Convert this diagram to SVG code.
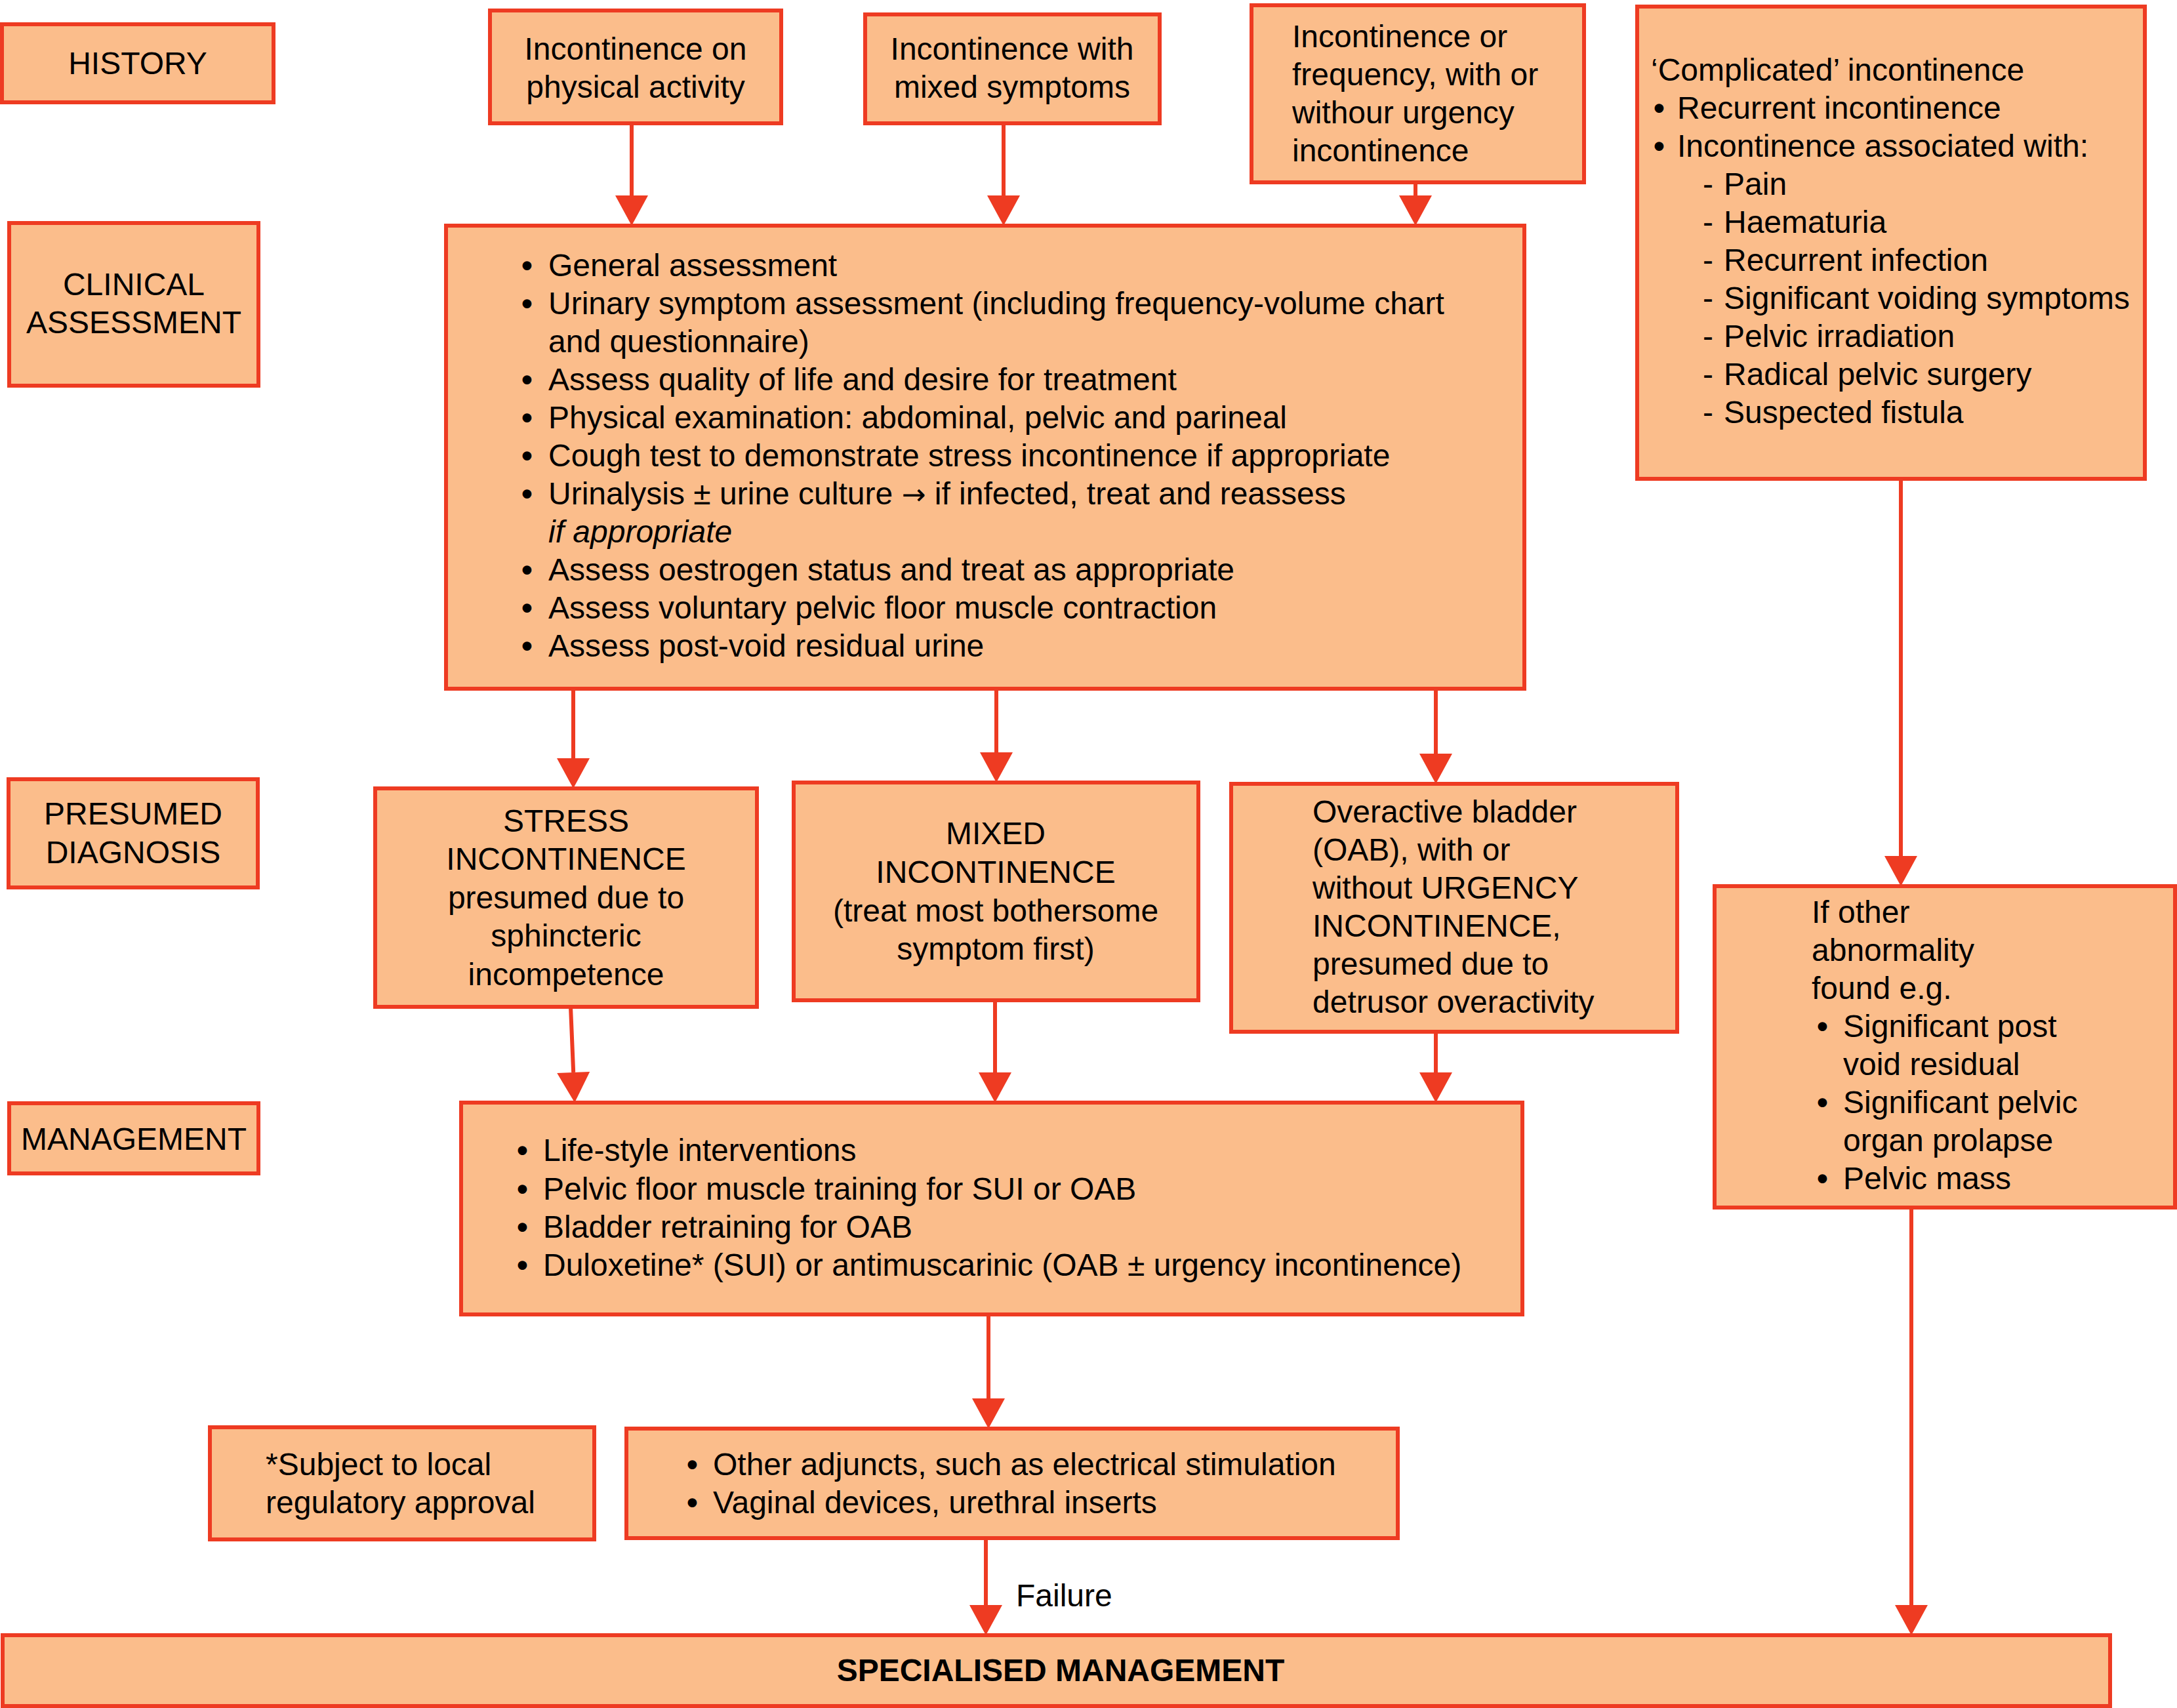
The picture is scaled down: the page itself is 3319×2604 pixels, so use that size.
<svg xmlns="http://www.w3.org/2000/svg" width="3319" height="2604" viewBox="0 0 3319 2604">
<style>
  .box { fill: #FBBD8B; stroke: #EE3B22; stroke-width: 6; }
  text { font-family: "Liberation Sans", Arial, Helvetica, sans-serif; font-size: 48px; fill: #000; }
  .c { text-anchor: middle; }
  .b { font-weight: bold; }
  .i { font-style: italic; }
  .bul { font-weight: bold; }
  .sym { font-family: "DejaVu Sans", sans-serif; font-size: 44px; }
  .conn { fill: none; stroke: #EE3B22; stroke-width: 6; marker-end: url(#arrow); }
</style>
<defs>
  <marker id="arrow" markerUnits="userSpaceOnUse" markerWidth="50" markerHeight="56" refX="0" refY="25" orient="auto" overflow="visible">
    <path d="M0,0 L46,25 L0,50 Z" fill="#EE3B22"/>
  </marker>
</defs>
<rect width="3319" height="2604" fill="#FFFFFF"/>

<g id="connectors">
  <path class="conn" d="M963,188 L963,298"/>
  <path class="conn" d="M1530,188 L1530,298"/>
  <path class="conn" d="M2158,278 L2158,298"/>
  <path class="conn" d="M874,1050 L874,1156"/>
  <path class="conn" d="M1519,1050 L1519,1147"/>
  <path class="conn" d="M2189,1050 L2189,1149"/>
  <path class="conn" d="M2898,730 L2898,1305"/>
  <path class="conn" d="M870,1535 L874.2,1635"/>
  <path class="conn" d="M1517,1525 L1517,1635"/>
  <path class="conn" d="M2189,1573 L2189,1635"/>
  <path class="conn" d="M1507,2004 L1507,2132"/>
  <path class="conn" d="M1503,2345 L1503,2447"/>
  <path class="conn" d="M2914,1841 L2914,2447"/>
  <text x="1549" y="2449">Failure</text>
</g>

<g id="history">
  <rect class="box" x="3" y="37" width="414" height="119"/>
  <text class="c" x="210" y="113">HISTORY</text>
</g>

<g id="clinical-label">
  <rect class="box" x="14" y="340" width="380" height="248"/>
  <text class="c" x="204" y="450">CLINICAL</text>
  <text class="c" x="204" y="508">ASSESSMENT</text>
</g>

<g id="presumed-label">
  <rect class="box" x="13" y="1188" width="380" height="165"/>
  <text class="c" x="203" y="1257">PRESUMED</text>
  <text class="c" x="203" y="1316">DIAGNOSIS</text>
</g>

<g id="management-label">
  <rect class="box" x="14" y="1682" width="380" height="107"/>
  <text class="c" x="204" y="1753">MANAGEMENT</text>
</g>

<g id="hist-physical">
  <rect class="box" x="747" y="16" width="444" height="172"/>
  <text class="c" x="969" y="91">Incontinence on</text>
  <text class="c" x="969" y="149">physical activity</text>
</g>

<g id="hist-mixed">
  <rect class="box" x="1319" y="22" width="449" height="166"/>
  <text class="c" x="1543" y="91">Incontinence with</text>
  <text class="c" x="1543" y="149">mixed symptoms</text>
</g>

<g id="hist-frequency">
  <rect class="box" x="1908" y="8" width="507" height="270"/>
  <text x="1970" y="72">Incontinence or</text>
  <text x="1970" y="130">frequency, with or</text>
  <text x="1970" y="188">withour urgency</text>
  <text x="1970" y="246">incontinence</text>
</g>

<g id="complicated">
  <rect class="box" x="2496" y="10" width="774" height="720"/>
  <text x="2517" y="123">‘Complicated’ incontinence</text>
  <text class="bul" x="2521" y="181">•</text><text x="2557" y="181">Recurrent incontinence</text>
  <text class="bul" x="2521" y="239">•</text><text x="2557" y="239">Incontinence associated with:</text>
  <text x="2596" y="297">-</text><text x="2628" y="297">Pain</text>
  <text x="2596" y="355">-</text><text x="2628" y="355">Haematuria</text>
  <text x="2596" y="413">-</text><text x="2628" y="413">Recurrent infection</text>
  <text x="2596" y="471">-</text><text x="2628" y="471">Significant voiding symptoms</text>
  <text x="2596" y="529">-</text><text x="2628" y="529">Pelvic irradiation</text>
  <text x="2596" y="587">-</text><text x="2628" y="587">Radical pelvic surgery</text>
  <text x="2596" y="645">-</text><text x="2628" y="645">Suspected fistula</text>
</g>

<g id="clinical-assessment">
  <rect class="box" x="680" y="344" width="1644" height="706"/>
  <text class="bul" x="795" y="421">•</text><text x="836" y="421">General assessment</text>
  <text class="bul" x="795" y="479">•</text><text x="836" y="479">Urinary symptom assessment (including frequency-volume chart</text>
  <text x="836" y="537">and questionnaire)</text>
  <text class="bul" x="795" y="595">•</text><text x="836" y="595">Assess quality of life and desire for treatment</text>
  <text class="bul" x="795" y="653">•</text><text x="836" y="653">Physical examination: abdominal, pelvic and parineal</text>
  <text class="bul" x="795" y="711">•</text><text x="836" y="711">Cough test to demonstrate stress incontinence if appropriate</text>
  <text class="bul" x="795" y="769">•</text><text x="836" y="769">Urinalysis ± urine culture <tspan class="sym">→</tspan> if infected, treat and reassess</text>
  <text class="i" x="836" y="827">if appropriate</text>
  <text class="bul" x="795" y="885">•</text><text x="836" y="885">Assess oestrogen status and treat as appropriate</text>
  <text class="bul" x="795" y="943">•</text><text x="836" y="943">Assess voluntary pelvic floor muscle contraction</text>
  <text class="bul" x="795" y="1001">•</text><text x="836" y="1001">Assess post-void residual urine</text>
</g>

<g id="stress">
  <rect class="box" x="572" y="1202" width="582" height="333"/>
  <text class="c" x="863" y="1268">STRESS</text>
  <text class="c" x="863" y="1326">INCONTINENCE</text>
  <text class="c" x="863" y="1385">presumed due to</text>
  <text class="c" x="863" y="1443">sphincteric</text>
  <text class="c" x="863" y="1502">incompetence</text>
</g>

<g id="mixed">
  <rect class="box" x="1210" y="1193" width="617" height="332"/>
  <text class="c" x="1518" y="1287">MIXED</text>
  <text class="c" x="1518" y="1346">INCONTINENCE</text>
  <text class="c" x="1518" y="1405">(treat most bothersome</text>
  <text class="c" x="1518" y="1463">symptom first)</text>
</g>

<g id="oab">
  <rect class="box" x="1877" y="1195" width="680" height="378"/>
  <text x="2001" y="1254">Overactive bladder</text>
  <text x="2001" y="1312">(OAB), with or</text>
  <text x="2001" y="1370">without URGENCY</text>
  <text x="2001" y="1428">INCONTINENCE,</text>
  <text x="2001" y="1486">presumed due to</text>
  <text x="2001" y="1544">detrusor overactivity</text>
</g>

<g id="if-other">
  <rect class="box" x="2614" y="1351" width="702" height="490"/>
  <text x="2762" y="1407">If other</text>
  <text x="2762" y="1465">abnormality</text>
  <text x="2762" y="1523">found e.g.</text>
  <text class="bul" x="2770" y="1581">•</text><text x="2810" y="1581">Significant post</text>
  <text x="2810" y="1639">void residual</text>
  <text class="bul" x="2770" y="1697">•</text><text x="2810" y="1697">Significant pelvic</text>
  <text x="2810" y="1755">organ prolapse</text>
  <text class="bul" x="2770" y="1813">•</text><text x="2810" y="1813">Pelvic mass</text>
</g>

<g id="management">
  <rect class="box" x="703" y="1681" width="1618" height="323"/>
  <text class="bul" x="788" y="1770">•</text><text x="828" y="1770">Life-style interventions</text>
  <text class="bul" x="788" y="1829">•</text><text x="828" y="1829">Pelvic floor muscle training for SUI or OAB</text>
  <text class="bul" x="788" y="1887">•</text><text x="828" y="1887">Bladder retraining for OAB</text>
  <text class="bul" x="788" y="1945">•</text><text x="828" y="1945">Duloxetine* (SUI) or antimuscarinic (OAB ± urgency incontinence)</text>
</g>

<g id="subject-note">
  <rect class="box" x="320" y="2176" width="586" height="171"/>
  <text x="405" y="2249">*Subject to local</text>
  <text x="405" y="2307">regulatory approval</text>
</g>

<g id="adjuncts">
  <rect class="box" x="955" y="2178" width="1176" height="167"/>
  <text class="bul" x="1047" y="2249">•</text><text x="1087" y="2249">Other adjuncts, such as electrical stimulation</text>
  <text class="bul" x="1047" y="2307">•</text><text x="1087" y="2307">Vaginal devices, urethral inserts</text>
</g>

<g id="specialised">
  <rect class="box" x="4" y="2493" width="3213" height="108"/>
  <text class="c b" x="1617" y="2563">SPECIALISED MANAGEMENT</text>
</g>
</svg>
